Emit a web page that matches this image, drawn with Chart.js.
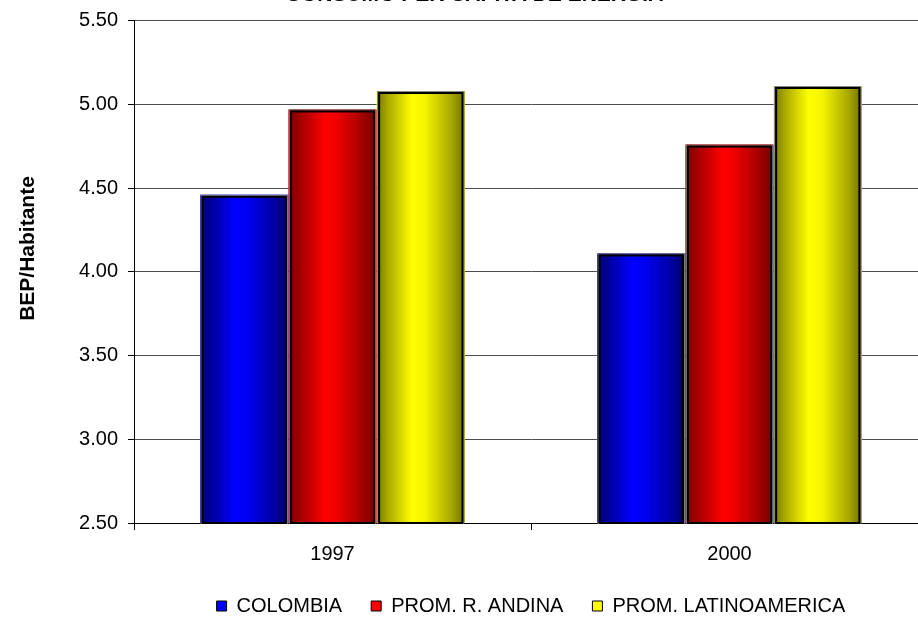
<!DOCTYPE html>
<html>
<head>
<meta charset="utf-8">
<script src="https://cdn.jsdelivr.net/npm/chart.js@4/dist/chart.umd.min.js"></script>
<style>
  html, body { margin: 0; padding: 0; background: #fff; overflow: hidden; width: 918px; height: 617px; }
  #wrap { position: absolute; left: 0; top: -24px; width: 950px; height: 650px; }
</style>
</head>
<body>
<div id="wrap"><canvas id="c" width="950" height="650"></canvas></div>
<script>
// ---- data ----
const CATEGORIES = ['1997', '2000'];
const SERIES_NAMES = ['COLOMBIA', 'PROM. R. ANDINA', 'PROM. LATINOAMERICA'];
const COLOMBIA = [4.46, 4.11];
const ANDINA = [4.97, 4.76];
const LATAM = [5.08, 5.11];
const Y_MIN = 2.5, Y_MAX = 5.5, Y_STEP = 0.5;
const TITLE = 'CONSUMO PER CAPITA DE ENERGIA';
const Y_TITLE = 'BEP/Habitante';

// ---- styles ----
const SOLID = ['#0000ff', '#ff0000', '#ffff00'];
const GRADS = [
  [[0, '#000070'], [0.12, '#00009a'], [0.4, '#0000ff'], [0.55, '#0000f0'], [0.85, '#0000a0'], [1, '#000068']],
  [[0, '#780000'], [0.12, '#a00000'], [0.42, '#ff0000'], [0.55, '#f00000'], [0.85, '#a00000'], [1, '#700000']],
  [[0, '#7a7a00'], [0.12, '#a8a800'], [0.4, '#ffff00'], [0.55, '#f4f400'], [0.85, '#a8a800'], [1, '#747400']]
];
const FONT = 'Arial, "Liberation Sans", sans-serif';

const shadePlugin = {
  id: 'shade',
  afterDatasetsDraw(chart) {
    const ctx = chart.ctx;
    const area = chart.chartArea;
    chart.data.datasets.forEach((ds, di) => {
      const meta = chart.getDatasetMeta(di);
      if (meta.hidden) return;
      meta.data.forEach(bar => {
        const p = bar.getProps(['x', 'y', 'base', 'width'], true);
        const l = p.x - p.width / 2 + 0.5, w = p.width - 1;
        const top = Math.max(p.y, area.top);
        const bottom = Math.min(p.base, area.bottom);
        const h = bottom - top;
        const g = ctx.createLinearGradient(l, 0, l + w, 0);
        GRADS[di].forEach(s => g.addColorStop(s[0], s[1]));
        ctx.save();
        ctx.fillStyle = g;
        ctx.fillRect(l, top, w, h);
        ctx.strokeStyle = '#888';
        ctx.lineWidth = 1;
        ctx.strokeRect(l + 0.5, top + 0.5, w - 1, h);
        ctx.strokeStyle = '#000';
        ctx.lineWidth = 2;
        ctx.strokeRect(l + 2, top + 2, w - 4, h - 2);
        ctx.restore();
      });
    });
  }
};

const seriesData = [COLOMBIA, ANDINA, LATAM];

new Chart(document.getElementById('c'), {
  type: 'bar',
  data: {
    labels: CATEGORIES,
    datasets: SERIES_NAMES.map((n, i) => ({
      label: n,
      data: seriesData[i],
      backgroundColor: SOLID[i],
      borderWidth: 0,
      categoryPercentage: 0.667,
      barPercentage: 1.0
    }))
  },
  options: {
    responsive: false,
    animation: false,
    layout: { padding: { left: 0, right: 22, top: 0, bottom: 0 } },
    plugins: {
      title: {
        display: true,
        text: '\u2002\u2002' + TITLE,
        color: '#000',
        font: { family: FONT, size: 21, weight: 'bold' },
        padding: { top: 7, bottom: 12.5 }
      },
      legend: {
        position: 'bottom',
        fullSize: false,
        labels: {
          color: '#000',
          font: { family: FONT, size: 20 },
          boxWidth: 10,
          boxHeight: 10,
          padding: 29,
          generateLabels(chart) {
            return chart.data.datasets.map((ds, i) => ({
              text: ds.label,
              fillStyle: SOLID[i],
              strokeStyle: '#000',
              lineWidth: 1,
              hidden: false,
              datasetIndex: i,
              fontColor: '#000'
            }));
          }
        }
      },
      tooltip: { enabled: false }
    },
    scales: {
      x: {
        afterFit(scale) { scale.height = 44; },
        grid: { display: true, drawOnChartArea: false, drawTicks: true, tickLength: 7, tickColor: '#000', offset: true },
        border: { display: true, color: '#000', width: 1 },
        ticks: { color: '#000', font: { family: FONT, size: 20 }, padding: 12 }
      },
      y: {
        min: Y_MIN,
        max: Y_MAX,
        afterFit(scale) { scale.width = 134; },
        ticks: {
          stepSize: Y_STEP,
          color: '#000',
          font: { family: FONT, size: 20 },
          padding: 10,
          callback: v => Number(v).toFixed(2)
        },
        grid: { color: '#4d4d4d', lineWidth: 1, tickLength: 6, tickColor: '#000' },
        border: { display: true, color: '#000', width: 1 },
        title: {
          display: true,
          text: '        ' + Y_TITLE,
          color: '#000',
          font: { family: FONT, size: 21, weight: 'bold' },
          padding: { top: 16, bottom: 0 }
        }
      }
    }
  },
  plugins: [shadePlugin]
});
</script>
</body>
</html>
